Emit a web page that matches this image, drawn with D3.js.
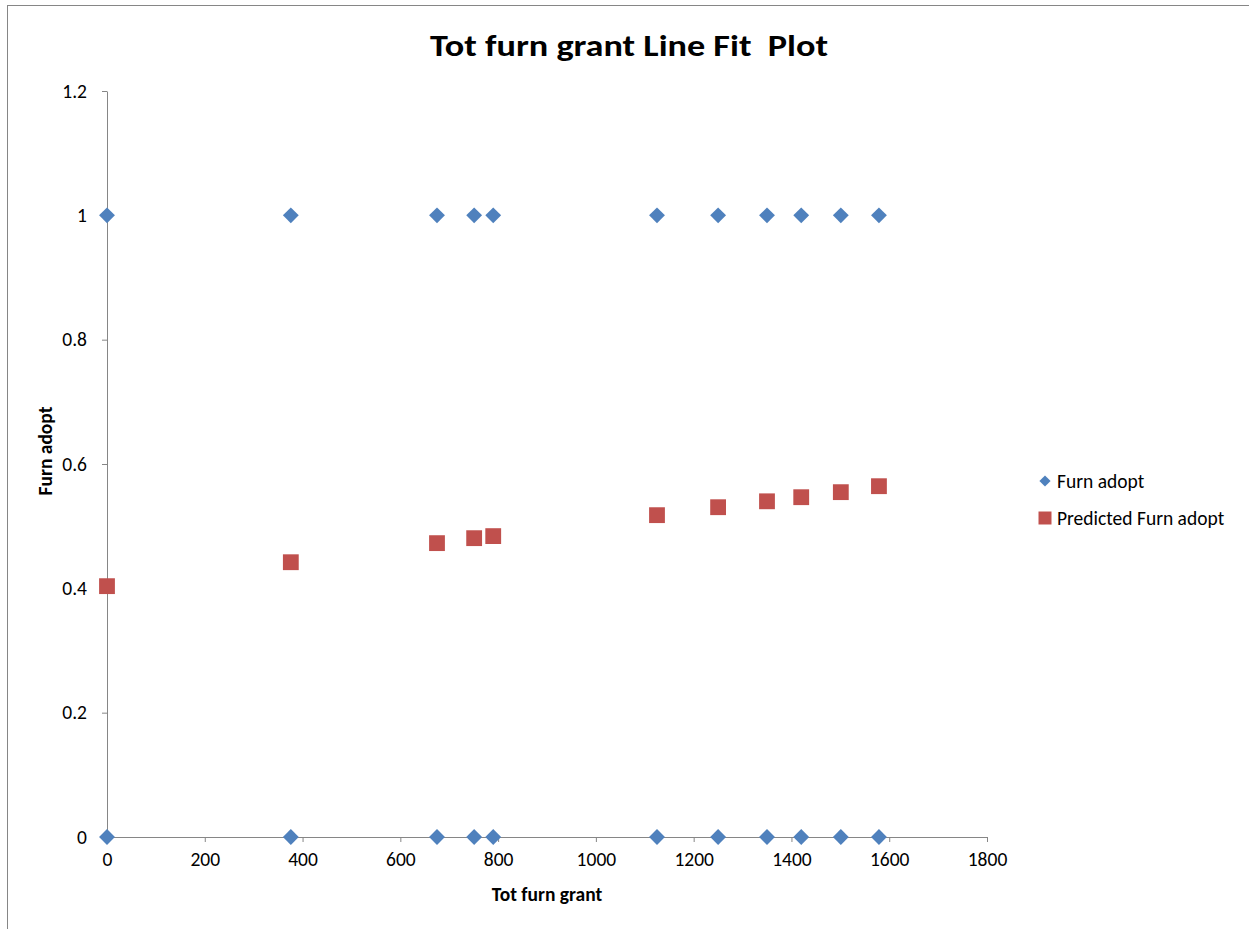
<!DOCTYPE html>
<html>
<head>
<meta charset="utf-8">
<script src="https://cdn.jsdelivr.net/npm/d3@7"></script>
<style>
  body { margin: 0; background: #fff; }
  text { font-family: Carlito, Calibri, Lato, "Open Sans", sans-serif; white-space: pre; }
</style>
</head>
<body>
<svg id="chart" width="1249" height="929"></svg>
<script>
// Data
const grants = [0, 376, 675, 751, 790, 1125, 1250, 1350, 1420, 1501, 1579];
const adoptOnes = [1, 1, 1, 1, 1, 1, 1, 1, 1, 1, 1];
const adoptZeros = [0, 0, 0, 0, 0, 0, 0, 0, 0, 0, 0];
const predicted = [0.4035, 0.442, 0.4727, 0.4807, 0.484, 0.5177, 0.5305, 0.540, 0.5466, 0.5547, 0.5643];
const xTicks = [0, 200, 400, 600, 800, 1000, 1200, 1400, 1600, 1800];
const yTicks = [0, 0.2, 0.4, 0.6, 0.8, 1, 1.2];
const seriesNames = ["Furn adopt", "Predicted Furn adopt"];
const colors = ["#4F81BD", "#C0504D"];

const FONT = "Carlito, Calibri, Lato, 'Open Sans', sans-serif";
const svg = d3.select("#chart");
// outer chart frame (only top and left visible)
svg.append("rect").attr("x", 7.5).attr("y", 5.5).attr("width", 1300).attr("height", 1000)
  .attr("fill", "#fff").attr("stroke", "#868686").attr("stroke-width", 1);

const x = d3.scaleLinear().domain([0, 1800]).range([107, 987]);
const y = d3.scaleLinear().domain([0, 1.2]).range([837, 91]);

svg.append("text").attr("x", 629).attr("y", 56).attr("text-anchor", "middle")
  .attr("font-size", 31).attr("font-weight", "bold").attr("fill", "#000")
  .attr("textLength", 398).attr("lengthAdjust", "spacingAndGlyphs")
  .text("Tot furn grant Line Fit  Plot");

const xAxis = svg.append("g").attr("transform", "translate(0,837)")
  .call(d3.axisBottom(x).tickValues(xTicks).tickSize(5).tickSizeOuter(0).tickPadding(9)
    .tickFormat(d3.format("d")));
const yAxis = svg.append("g").attr("transform", "translate(107,0)")
  .call(d3.axisLeft(y).tickValues(yTicks).tickSize(5).tickSizeOuter(0).tickPadding(15)
    .tickFormat(d => d === 0 || d === 1 ? String(d) : d3.format(".1f")(d)));
[xAxis, yAxis].forEach(g => {
  g.attr("font-size", 19.5).attr("font-family", FONT);
  g.select(".domain").attr("stroke", "#868686");
  g.selectAll(".tick line").attr("stroke", "#868686");
  g.selectAll(".tick text").attr("font-size", 19.5).attr("fill", "#000")
    .style("font-family", FONT);
});
xAxis.selectAll(".tick text").attr("dy", "0.75em");

svg.append("text").attr("x", 547).attr("y", 901).attr("text-anchor", "middle")
  .attr("font-size", 19.5).attr("font-weight", "bold").text("Tot furn grant");
svg.append("text").attr("transform", "translate(52,451) rotate(-90)").attr("text-anchor", "middle")
  .attr("font-size", 19.5).attr("font-weight", "bold").text("Furn adopt");

const diamond = d3.symbol().type(d3.symbolDiamond2).size(160);
const square = d3.symbol().type(d3.symbolSquare).size(250);

const pts = [];
grants.forEach((g, i) => { pts.push([g, adoptOnes[i]]); pts.push([g, adoptZeros[i]]); });
svg.append("g").selectAll("path.d").data(pts).join("path")
  .attr("d", diamond).attr("fill", colors[0])
  .attr("transform", d => `translate(${x(d[0])},${y(d[1])})`);

svg.append("g").selectAll("path.s").data(grants.map((g, i) => [g, predicted[i]])).join("path")
  .attr("d", square).attr("fill", colors[1])
  .attr("transform", d => `translate(${x(d[0])},${y(d[1])})`);

// legend
const leg = svg.append("g");
leg.append("path").attr("d", d3.symbol().type(d3.symbolDiamond2).size(80)).attr("fill", colors[0])
  .attr("transform", "translate(1045,481)");
leg.append("text").attr("x", 1057).attr("y", 488).attr("font-size", 19.5).text(seriesNames[0]);
leg.append("path").attr("d", d3.symbol().type(d3.symbolSquare).size(169)).attr("fill", colors[1])
  .attr("transform", "translate(1045,518)");
leg.append("text").attr("x", 1057).attr("y", 525).attr("font-size", 19.5).text(seriesNames[1]);
</script>
</body>
</html>
